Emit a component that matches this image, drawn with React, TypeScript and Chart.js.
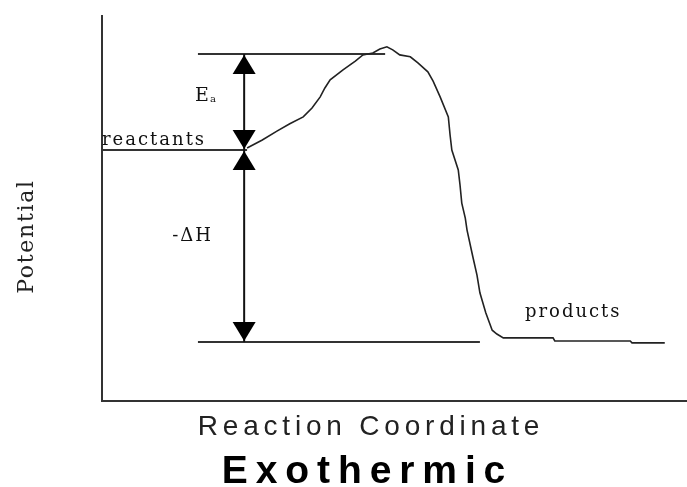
import { useEffect, useRef } from 'react';
import { Chart, registerables } from 'chart.js';

Chart.register(...registerables);

// Reaction coordinate (0-100) and potential (0-100)
const curveX = [24.8, 27.4, 29.9, 32.1, 34.4, 35.9, 37.3, 38.1, 39.0, 41.2, 43.3, 44.6, 46.3, 47.5, 48.7, 49.7, 50.9, 52.7, 54.0, 55.7, 56.6, 57.8, 59.2, 59.5, 59.8, 60.9, 61.2, 61.5, 62.1, 62.4, 63.4, 64.1, 64.6, 65.6, 66.7, 67.5, 68.6, 77.1, 77.4, 90.3, 90.6, 96.2];
const curveY = [65.7, 67.8, 70.1, 72.0, 73.8, 76.1, 79.0, 81.3, 83.4, 86.0, 88.3, 89.9, 90.4, 91.4, 92.0, 91.2, 89.9, 89.4, 87.8, 85.5, 83.1, 79.0, 73.8, 69.1, 65.2, 60.0, 56.1, 51.4, 47.5, 44.4, 37.4, 32.7, 28.1, 22.9, 18.4, 17.4, 16.4, 16.4, 15.6, 15.6, 15.1, 15.1];

const reactantLevel = 65.2;
const transitionLevel = 90.1;
const productLevel = 15.3;
const reactantLineX = [0, 24.8];
const transitionLineX = [16.4, 48.4];
const productLineX = [16.4, 64.6];
const arrowX = 24.3;

const xTitle = 'Reaction Coordinate';
const yTitle = 'Potential';
const chartTitle = 'Exothermic';

const labelTexts = ['reactants', 'products', '-ΔH'];
const labelX = [0, 72.3, 12.0];
const labelY = [66.5, 21.8, 41.6];
const eaMain = 'E';
const eaSub = 'a';
const eaX = 15.9;
const eaY = 77.9;

const LINE = '#333333';
const SERIF = '"DejaVu Serif", "Liberation Serif", serif';
const SANS = '"Liberation Sans", Arial, sans-serif';

const annotationPlugin = {
  id: 'energyAnnotations',
  afterDatasetsDraw(chart: any) {
    const { ctx, scales } = chart;
    const xs = scales.x;
    const ys = scales.y;
    const ax = xs.getPixelForValue(arrowX);
    const drawArrow = (yTop: number, yBottom: number) => {
      const pTop = ys.getPixelForValue(yTop);
      const pBot = ys.getPixelForValue(yBottom);
      ctx.save();
      ctx.strokeStyle = '#111';
      ctx.lineWidth = 2;
      ctx.beginPath();
      ctx.moveTo(ax, pTop);
      ctx.lineTo(ax, pBot);
      ctx.stroke();
      ctx.fillStyle = '#000';
      const h = 19;
      const w = 11.5;
      ctx.beginPath();
      ctx.moveTo(ax, pTop + 1);
      ctx.lineTo(ax - w, pTop + 1 + h);
      ctx.lineTo(ax + w, pTop + 1 + h);
      ctx.closePath();
      ctx.fill();
      ctx.beginPath();
      ctx.moveTo(ax, pBot - 1);
      ctx.lineTo(ax - w, pBot - 1 - h);
      ctx.lineTo(ax + w, pBot - 1 - h);
      ctx.closePath();
      ctx.fill();
      ctx.restore();
    };
    drawArrow(transitionLevel, reactantLevel);
    drawArrow(reactantLevel, productLevel);

    ctx.save();
    ctx.fillStyle = '#111';
    ctx.textAlign = 'left';
    ctx.textBaseline = 'alphabetic';
    ctx.font = `18px ${SERIF}`;
    ctx.letterSpacing = '2px';
    labelTexts.forEach((t, i) => {
      ctx.fillText(t, xs.getPixelForValue(labelX[i]), ys.getPixelForValue(labelY[i]));
    });
    ctx.letterSpacing = '0px';
    const ex = xs.getPixelForValue(eaX);
    const ey = ys.getPixelForValue(eaY);
    ctx.font = `19px ${SERIF}`;
    ctx.fillText(eaMain, ex, ey);
    const ew = ctx.measureText(eaMain).width;
    ctx.font = `10px ${SERIF}`;
    ctx.fillText(eaSub, ex + ew + 1, ey + 1);
    ctx.restore();
  },
  afterDraw(chart: any) {
    const { ctx, chartArea } = chart;
    ctx.save();
    ctx.fillStyle = '#222';
    ctx.textBaseline = 'alphabetic';
    ctx.textAlign = 'center';
    const cx = (chartArea.left + chartArea.right) / 2 - 22;
    ctx.font = `28px ${SANS}`;
    ctx.letterSpacing = '4.8px';
    ctx.fillText(xTitle, cx - 1.5, chartArea.bottom + 34);
    ctx.fillStyle = '#000';
    ctx.font = `bold 39px ${SANS}`;
    ctx.letterSpacing = '7.9px';
    ctx.fillText(chartTitle, cx - 5, chartArea.bottom + 82);
    ctx.fillStyle = '#222';
    ctx.font = `22px ${SERIF}`;
    ctx.letterSpacing = '1.7px';
    ctx.translate(chartArea.left - 69, (chartArea.top + chartArea.bottom) / 2 + 28);
    ctx.rotate(-Math.PI / 2);
    ctx.fillText(yTitle, 0, 0);
    ctx.restore();
  },
};

const seg = (xr: number[], y: number) => xr.map((x) => ({ x, y }));

export default function App() {
  const ref = useRef<HTMLCanvasElement>(null);
  useEffect(() => {
    if (!ref.current) return;
    const chart = new Chart(ref.current, {
      type: 'line',
      data: {
        datasets: [
          {
            label: 'curve',
            data: curveX.map((x, i) => ({ x, y: curveY[i] })),
            borderColor: '#222',
            borderWidth: 1.6,
            pointRadius: 0,
            tension: 0,
          },
          { label: 'reactants', data: seg(reactantLineX, reactantLevel), borderColor: LINE, borderWidth: 2, pointRadius: 0 },
          { label: 'transition', data: seg(transitionLineX, transitionLevel), borderColor: LINE, borderWidth: 2, pointRadius: 0 },
          { label: 'products', data: seg(productLineX, productLevel), borderColor: LINE, borderWidth: 2, pointRadius: 0 },
        ],
      },
      options: {
        responsive: false,
        animation: false,
        devicePixelRatio: 1,
        layout: { padding: { left: 102, top: 16, right: 0, bottom: 86 } },
        plugins: { legend: { display: false }, tooltip: { enabled: false }, title: { display: false } },
        scales: {
          x: {
            type: 'linear',
            min: 0,
            max: 100,
            ticks: { display: false },
            grid: { display: true, color: 'transparent', drawTicks: false },
            border: { display: true, color: LINE, width: 2 },
          },
          y: {
            type: 'linear',
            min: 0,
            max: 100,
            ticks: { display: false },
            grid: { display: true, color: 'transparent', drawTicks: false },
            border: { display: true, color: LINE, width: 2 },
          },
        },
      },
      plugins: [annotationPlugin],
    });
    return () => chart.destroy();
  }, []);
  return (
    <div style={{ position: 'absolute', left: 0, top: 0, width: 687, height: 487, background: '#fff' }}>
      <canvas ref={ref} width={687} height={487} />
    </div>
  );
}
